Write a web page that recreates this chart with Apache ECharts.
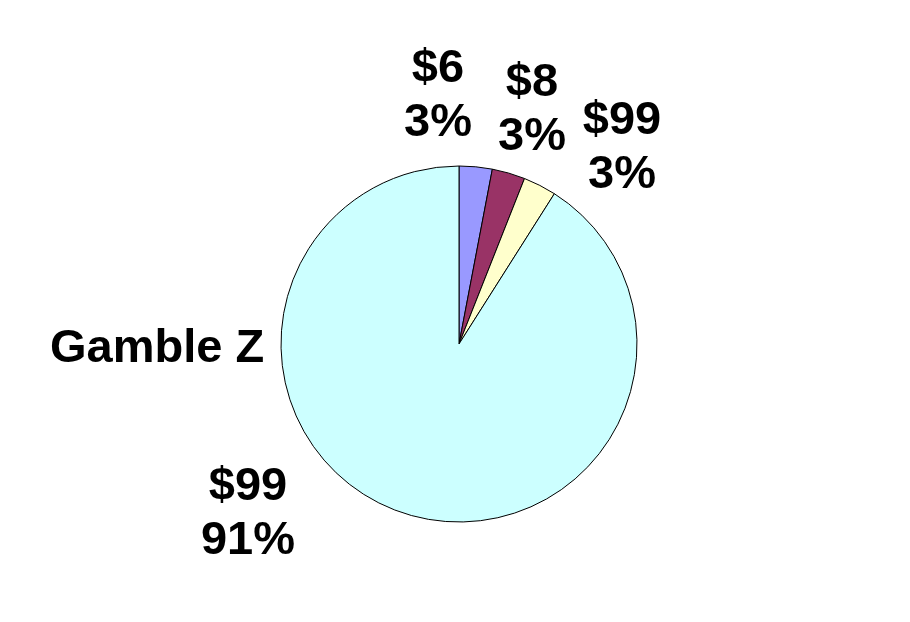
<!DOCTYPE html>
<html><head><meta charset="utf-8">
<script src="https://cdn.jsdelivr.net/npm/echarts@6/dist/echarts.min.js"></script>
<style>html,body{margin:0;padding:0;background:#fff}#c{width:910px;height:622px}</style>
</head><body><div id="c"></div>
<script>
const categories = ['$6', '$8', '$99', '$99'];
const values = [3, 3, 3, 91];
const chartTitle = 'Gamble Z';
const colors = ['#9999FF', '#993366', '#FFFFCC', '#CCFFFF'];
const labelPos = [[438, 96], [532, 110], [622, 148], [248, 514]];

const chart = echarts.init(document.getElementById('c'));
const total = values.reduce((a, b) => a + b, 0);
chart.setOption({
  backgroundColor: '#fff',
  animation: false,
  title: {
    text: chartTitle, left: 45, top: 321,
    textStyle: { fontFamily: 'Liberation Sans', fontWeight: 'bold', fontSize: 47, color: '#000' }
  },
  series: [{
    type: 'pie',
    center: [459, 344],
    radius: [0, 178],
    startAngle: 90,
    clockwise: true,
    data: categories.map((c, i) => ({ name: c, value: values[i], itemStyle: { color: colors[i] } })),
    itemStyle: { borderColor: '#000', borderWidth: 1 },
    label: {
      show: true,
      position: 'outside',
      formatter: p => categories[p.dataIndex] + '\n' + Math.round(values[p.dataIndex] / total * 100) + '%',
      fontFamily: 'Liberation Sans', fontWeight: 'bold', fontSize: 47, lineHeight: 54, color: '#000', align: 'center'
    },
    labelLine: { show: false },
    labelLayout: p => ({ x: labelPos[p.dataIndex][0], y: labelPos[p.dataIndex][1], align: 'center', verticalAlign: 'middle' }),
    emphasis: { disabled: true }
  }]
});
</script></body></html>
